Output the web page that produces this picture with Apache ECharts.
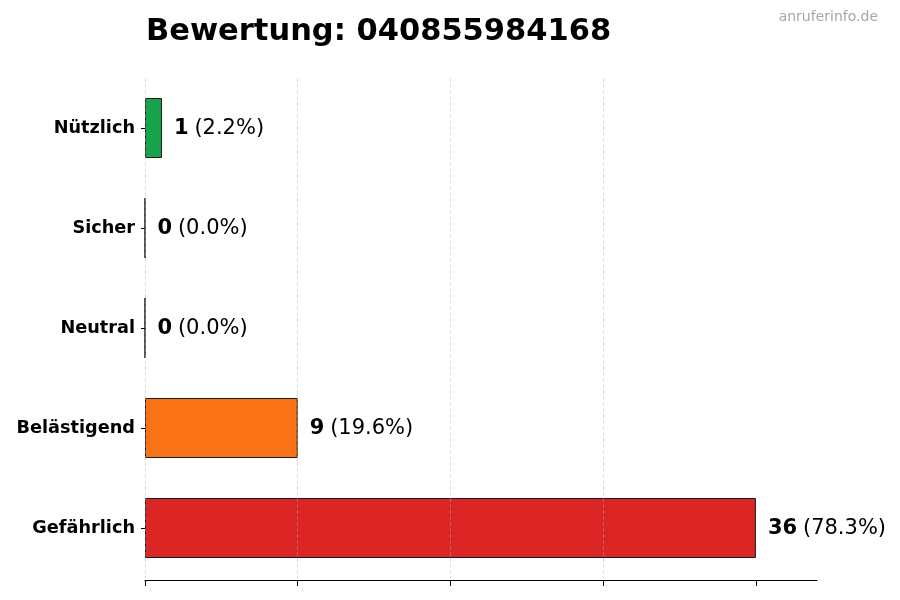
<!DOCTYPE html>
<html>
<head>
<meta charset="utf-8">
<script src="https://cdn.jsdelivr.net/npm/echarts@6/dist/echarts.min.js"></script>
<style>
html, body { margin: 0; padding: 0; background: #fff; }
#chart { width: 900px; height: 600px; }
</style>
</head>
<body>
<div id="chart"></div>
<script>
// Bewertungen einer Rufnummer
var categories = ['Nützlich', 'Sicher', 'Neutral', 'Belästigend', 'Gefährlich'];
var counts = [1, 0, 0, 9, 36];
var percents = ['2.2', '0.0', '0.0', '19.6', '78.3'];
var barColors = ['#16a34a', '#3b82f6', '#9ca3af', '#f97316', '#dc2626'];
var xTicks = [0, 9, 18, 27, 36];

var chart = echarts.init(document.getElementById('chart'));

var barData = counts.map(function (v, i) {
    return { value: v, itemStyle: { color: barColors[i] } };
});

option = {
    backgroundColor: '#ffffff',
    animation: false,
    textStyle: { fontFamily: 'DejaVu Sans' },
    title: {
        text: 'Bewertung: 040855984168',
        left: 141,
        top: 12,
        textStyle: {
            fontFamily: 'DejaVu Sans',
            fontSize: 30.5,
            fontWeight: 'bold',
            color: '#000'
        }
    },
    graphic: [{
        type: 'text',
        right: 22,
        top: 10,
        style: {
            text: 'anruferinfo.de',
            fontFamily: 'DejaVu Sans',
            fontSize: 14,
            fill: '#a6a6a6'
        }
    }],
    grid: {
        left: 145,
        right: 83,
        top: 78,
        bottom: 22
    },
    xAxis: {
        type: 'value',
        min: 0,
        max: 39.6,
        interval: 9,
        offset: 2,
        z: 3,
        axisLine: { show: true, lineStyle: { color: '#000', width: 1 } },
        axisTick: {
            show: true,
            length: 6,
            customValues: xTicks,
            lineStyle: { color: '#000' }
        },
        axisLabel: { show: false },
        splitLine: {
            show: true,
            showMaxLine: false,
            lineStyle: { color: 'rgba(176,176,176,0.5)', type: [4, 2], width: 0.8 }
        }
    },
    yAxis: {
        type: 'category',
        data: categories,
        inverse: true,
        axisLine: { show: false },
        axisTick: {
            show: true,
            alignWithLabel: true,
            length: 4,
            lineStyle: { color: '#000' }
        },
        axisLabel: {
            margin: 10,
            padding: [4, 0, 0, 0],
            fontFamily: 'DejaVu Sans',
            fontSize: 17.7,
            fontWeight: 'bold',
            color: '#000'
        },
        splitLine: { show: false }
    },
    series: [{
        type: 'bar',
        data: barData,
        barWidth: '60%',
        itemStyle: { borderColor: '#1a1a1a', borderWidth: 1 },
        label: {
            show: true,
            position: 'right',
            distance: 12,
            formatter: function (p) {
                return '{b|' + counts[p.dataIndex] + '} {n|(' + percents[p.dataIndex] + '%)}';
            },
            rich: {
                b: { fontFamily: 'DejaVu Sans', fontSize: 21, fontWeight: 'bold', color: '#000', padding: [2, 0, 0, 0] },
                n: { fontFamily: 'DejaVu Sans', fontSize: 21, color: '#000', padding: [2, 0, 0, 2] }
            }
        }
    }]
};

chart.setOption(option);
</script>
</body>
</html>
